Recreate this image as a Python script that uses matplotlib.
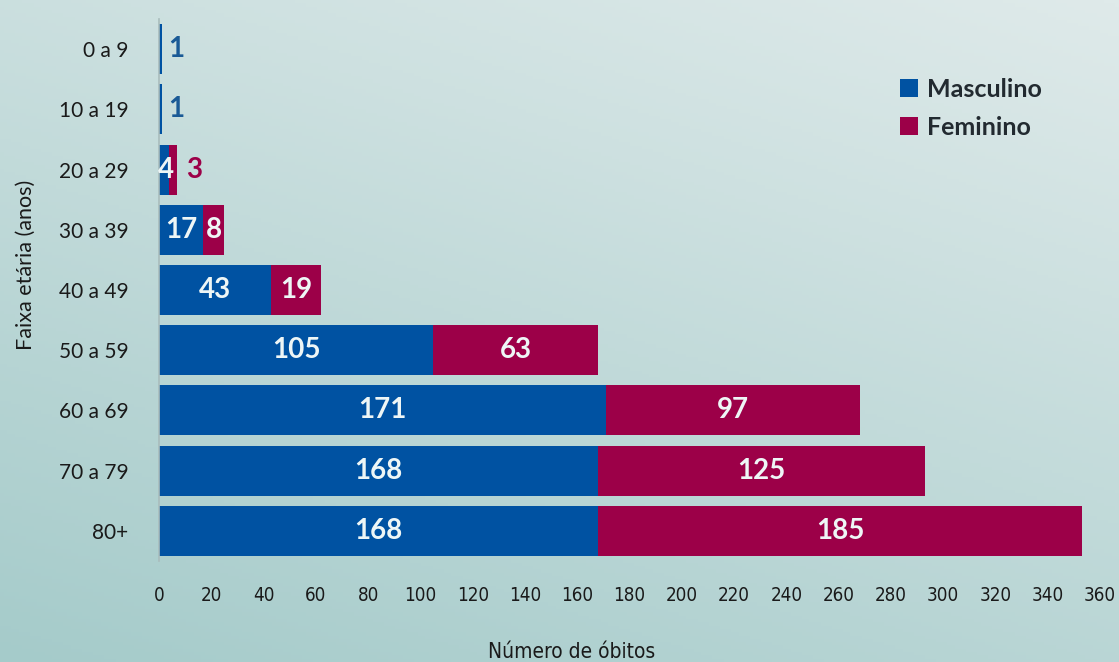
import numpy as np
import matplotlib
matplotlib.use("Agg")
import matplotlib.pyplot as plt
from matplotlib.colors import LinearSegmentedColormap

categories = ["0 a 9", "10 a 19", "20 a 29", "30 a 39", "40 a 49",
              "50 a 59", "60 a 69", "70 a 79", "80+"]
masculino = [1, 1, 4, 17, 43, 105, 171, 168, 168]
feminino = [0, 0, 3, 8, 19, 63, 97, 125, 185]
x_ticks = list(range(0, 361, 20))

BLUE = "#0052a2"
MAG = "#9c0048"
WHITE = "#eef6f6"
DARK = "#1a1a1a"
FONT = ["Lato", "DejaVu Sans"]

fig = plt.figure(figsize=(11.19, 6.62), dpi=100)

# gradient background: light at top/right, darker at bottom/left
bg = fig.add_axes([0, 0, 1, 1], zorder=-10)
yy, xx = np.mgrid[0:1:200j, 0:1:300j]
t = 0.65 * yy + 0.35 * (1 - xx)
cmap = LinearSegmentedColormap.from_list("bg", ["#dfeaea", "#a5cbca"])
bg.imshow(t, cmap=cmap, aspect="auto", extent=[0, 1, 0, 1], origin="upper",
          vmin=0.0, vmax=1.0)
bg.axis("off")

ax = fig.add_axes([0.1421, 0.1526, 0.841, 0.8187])
ax.patch.set_alpha(0)
y = np.arange(len(categories))
h = 0.83
ax.barh(y, masculino, height=h, color=BLUE, label="Masculino")
ax.barh(y, feminino, height=h, left=masculino, color=MAG, label="Feminino")
ax.set_ylim(len(categories) - 0.5, -0.5)
ax.set_xlim(0, 360)
ax.set_xticks(x_ticks)
ax.set_xticklabels([str(v) for v in x_ticks], fontsize=13.5, color=DARK,
                   family="DejaVu Sans", fontstretch="condensed")
ax.set_yticks(y)
ax.set_yticklabels(categories, fontsize=15, color=DARK, family=FONT)
ax.tick_params(axis="both", length=0)
ax.tick_params(axis="x", pad=18)
ax.tick_params(axis="y", pad=22)
for s in ["top", "right", "bottom"]:
    ax.spines[s].set_visible(False)
ax.spines["left"].set_color("#a9bcbc")
ax.spines["left"].set_linewidth(1.2)

VF = 20
for i, (m, f) in enumerate(zip(masculino, feminino)):
    if m >= 10:
        ax.text(m / 2, i, str(m), ha="center", va="center", color=WHITE,
                fontsize=VF, fontweight="bold", family=FONT)
    elif f > 0:
        ax.text(-0.3, i, str(m), ha="left", va="center", color=WHITE,
                fontsize=VF, fontweight="bold", family=FONT)
    else:
        ax.text(m + 2.5, i, str(m), ha="left", va="center", color="#1a5a96",
                fontsize=VF, fontweight="bold", family=FONT)
    if f >= 8:
        ax.text(m + f / 2, i, str(f), ha="center", va="center", color=WHITE,
                fontsize=VF, fontweight="bold", family=FONT)
    elif f > 0:
        ax.text(m + f + 3.5, i, str(f), ha="left", va="center", color=MAG,
                fontsize=VF, fontweight="bold", family=FONT)

leg = ax.legend(loc="upper left", bbox_to_anchor=(0.764, 0.933), frameon=False,
                prop={"family": FONT, "weight": "bold", "size": 18},
                handlelength=0.7, handleheight=0.7, handletextpad=0.35,
                labelspacing=0.6)
for t_ in leg.get_texts():
    t_.set_color("#222a30")

fig.text(0.511, 0.0, "Número de óbitos", ha="center", va="bottom",
         fontsize=15, color=DARK, family="DejaVu Sans", fontstretch="condensed")
fig.text(0.023, 0.60, "Faixa etária (anos)", ha="center", va="center",
         rotation=90, fontsize=15.5, color=DARK, family=FONT)

fig.savefig("out.png", dpi=100)
